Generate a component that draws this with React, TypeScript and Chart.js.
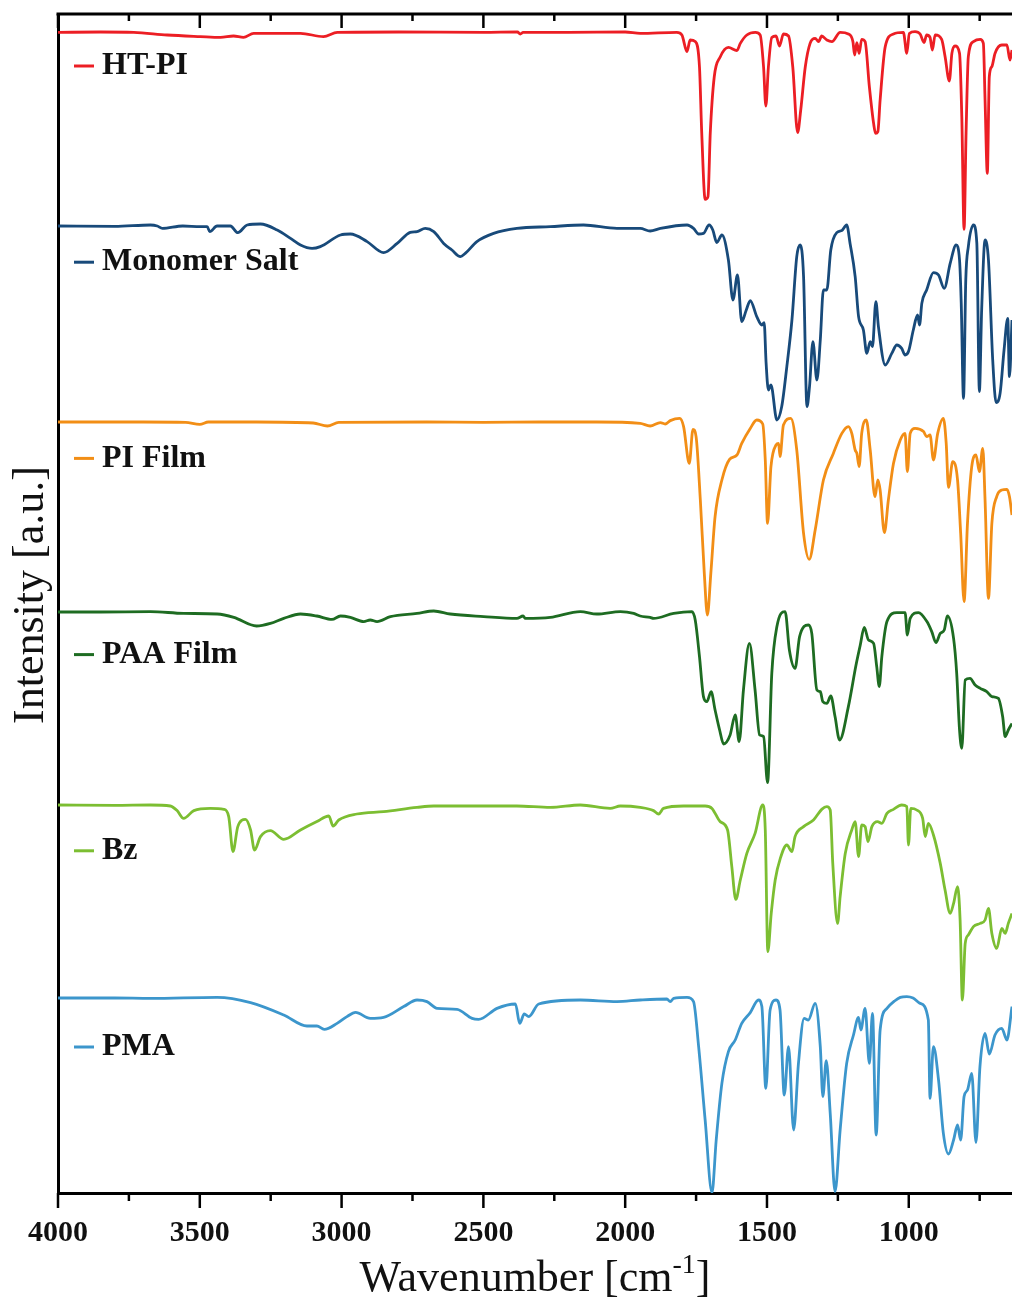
import React, { useEffect, useRef } from 'react';
import { Chart, registerables } from 'chart.js';

Chart.register(...registerables);

// ---------- data ----------
const seriesLabels = ['HT-PI', 'Monomer Salt', 'PI Film', 'PAA Film', 'Bz', 'PMA'];
const seriesColors = ['rgb(236,30,36)', 'rgb(24,74,122)', 'rgb(242,142,22)', 'rgb(30,108,34)', 'rgb(124,190,50)', 'rgb(60,150,204)'];
// vertical stacking offsets (a.u.)
const seriesOffsets = [485, 388, 291, 194, 97, 0];

const xTickValues = [4000, 3500, 3000, 2500, 2000, 1500, 1000];

// HT-PI
const htpiWn = [4000, 3850, 3733, 3615, 3498, 3427, 3381, 3346, 3310, 3145, 3064, 3015, 2800, 2500, 2380, 2370, 2360, 2200, 2000, 1947, 1818, 1800, 1782, 1771, 1753, 1738, 1730, 1718, 1708, 1700, 1686, 1665, 1636, 1606, 1594, 1571, 1541, 1524, 1512, 1504, 1495, 1483, 1468, 1456, 1442, 1424, 1409, 1392, 1381, 1365, 1348, 1330, 1318, 1307, 1289, 1271, 1242, 1213, 1197, 1191, 1183, 1175, 1166, 1154, 1139, 1124, 1117, 1109, 1101, 1083, 1054, 1019, 1007, 998, 978, 960, 946, 937, 925, 917, 907, 884, 872, 857, 848, 837, 821, 813, 805, 798, 790, 772, 748, 737, 731, 723, 716, 707, 696, 672, 654, 643, 636];
const htpiT = [95.3, 95.5, 95.3, 94, 93.2, 92.8, 93.5, 92.8, 94.8, 94.8, 93.2, 95.3, 95.5, 95.3, 95.5, 94.5, 95.3, 95.3, 95.5, 94.8, 95.3, 94, 85.7, 91.5, 90.7, 78, 44.8, 11.8, 13.2, 44.8, 73, 83, 87.8, 86.2, 89.8, 94, 95.3, 94, 78, 58.5, 78, 92.8, 93.5, 88.5, 94.5, 93.5, 78, 45.2, 56.5, 78, 89.8, 92.3, 90.7, 93.5, 91.5, 90.7, 95.3, 94.5, 90.7, 84, 90.2, 84.8, 91.8, 90.7, 68.2, 49.8, 44.8, 45.7, 61.5, 88.2, 94.5, 95.3, 84.8, 94.8, 95.7, 94.5, 90.2, 94, 92.8, 86.5, 94, 91.8, 83.2, 71, 84.8, 88.5, 84.8, 53.2, -3.2, 44.8, 83.2, 90.7, 91.8, 89.8, 61.5, 24.8, 73.2, 78.2, 84.8, 89, 89, 81.5, 86.5];

// Monomer Salt
const saltWn = [4000, 3800, 3674, 3650, 3632, 3560, 3498, 3474, 3465, 3439, 3392, 3366, 3333, 3286, 3227, 3180, 3145, 3104, 3075, 3004, 2969, 2910, 2852, 2804, 2758, 2734, 2705, 2675, 2640, 2611, 2581, 2564, 2523, 2464, 2382, 2264, 2147, 2029, 1970, 1947, 1912, 1876, 1782, 1759, 1741, 1724, 1704, 1691, 1677, 1659, 1636, 1620, 1604, 1589, 1573, 1559, 1536, 1518, 1510, 1503, 1495, 1486, 1465, 1448, 1430, 1412, 1395, 1383, 1371, 1359, 1350, 1338, 1324, 1312, 1301, 1289, 1275, 1254, 1236, 1219, 1207, 1189, 1177, 1160, 1148, 1136, 1128, 1116, 1107, 1083, 1060, 1042, 1025, 1013, 1001, 984, 969, 962, 954, 937, 913, 895, 875, 854, 833, 821, 815, 807, 799, 790, 772, 760, 751, 743, 731, 719, 704, 692, 678, 664, 651, 645, 636];
const saltT = [95.5, 95.3, 96, 95.5, 94.3, 95.5, 95.2, 95.2, 92.7, 95.5, 95.5, 92.2, 96, 96.5, 93.5, 89.3, 86, 84.3, 85.2, 91, 91.5, 87.7, 82.2, 86.8, 92.3, 92.7, 94.3, 92.7, 86.8, 83.5, 80.2, 81.8, 87.7, 91.8, 94.3, 95.2, 96, 94.3, 94.3, 94.3, 93, 94.3, 96, 94.3, 91.5, 91.8, 96, 93.5, 87.2, 91, 78.5, 58.5, 71, 47.7, 53.5, 58.2, 50.2, 46, 47.2, 26.8, 13.5, 16, -1.5, 5.2, 25.2, 48.5, 80.2, 86, 70.2, 5.2, 15.2, 37.7, 18.5, 38.5, 63.5, 63.5, 83.5, 92.2, 93.2, 96, 86.8, 70.2, 50.2, 43.5, 31.8, 37.7, 35.2, 57.7, 45.2, 26, 31.8, 36, 34.3, 31, 32.7, 43.5, 51, 46, 56.8, 63.5, 72.2, 71, 64.3, 76.8, 86, 78.5, 56.8, 9.3, 68.5, 85.2, 96, 86.8, 12.7, 53.5, 88.5, 78.5, 28.5, 7.2, 11.8, 33.5, 49.3, 20.2, 48.5];

// PI Film
const piWn = [4000, 3700, 3550, 3500, 3470, 3300, 3100, 3050, 3010, 2700, 2500, 2300, 2100, 1947, 1912, 1876, 1859, 1841, 1808, 1794, 1774, 1761, 1750, 1735, 1721, 1710, 1698, 1683, 1659, 1632, 1606, 1589, 1559, 1536, 1515, 1506, 1498, 1486, 1468, 1459, 1454, 1442, 1416, 1395, 1371, 1351, 1330, 1301, 1266, 1236, 1213, 1201, 1189, 1183, 1175, 1166, 1150, 1136, 1119, 1109, 1101, 1086, 1072, 1054, 1030, 1013, 1005, 995, 978, 948, 937, 925, 913, 898, 878, 868, 860, 845, 828, 817, 805, 793, 778, 763, 751, 739, 731, 719, 707, 690, 672, 654, 645, 636];
const piT = [94.5, 94.5, 94.3, 93.3, 94.5, 94.5, 94, 92.5, 94.3, 94.5, 94.3, 94.5, 94.5, 93.8, 92.5, 94.2, 93.5, 95.2, 96.3, 92.2, 73.8, 90.8, 87.2, 55.5, 18.8, -2, 18.8, 47.2, 65.5, 75.8, 78, 83.8, 91.3, 95.5, 93.5, 75.5, 43.8, 72.2, 83, 83.8, 77.2, 93, 96.3, 80.5, 38.8, 25.8, 40.5, 65.5, 78.8, 88.8, 92.2, 88.8, 80.5, 78.8, 72.2, 88.8, 95.5, 80.5, 57.2, 65.5, 60.5, 39.2, 55.5, 73.8, 85.5, 88.8, 69.7, 88.8, 91.3, 89.7, 87.2, 88, 75.5, 88.8, 96.3, 83.8, 61.8, 74.7, 65.5, 38.8, 4.7, 43.8, 72.2, 78, 69.7, 81.3, 55.5, 6.3, 43.8, 57.2, 60.5, 60.8, 57.2, 48];

// PAA Film
const paaWn = [4000, 3850, 3674, 3557, 3439, 3380, 3300, 3251, 3204, 3145, 3087, 3034, 3004, 2969, 2922, 2899, 2875, 2828, 2734, 2675, 2617, 2499, 2382, 2360, 2352, 2264, 2158, 2100, 2017, 1970, 1947, 1912, 1900, 1829, 1765, 1753, 1738, 1724, 1712, 1697, 1683, 1667, 1653, 1630, 1612, 1598, 1583, 1562, 1542, 1526, 1512, 1498, 1483, 1465, 1436, 1421, 1401, 1385, 1354, 1342, 1324, 1312, 1303, 1289, 1275, 1260, 1244, 1213, 1186, 1171, 1157, 1142, 1124, 1113, 1104, 1095, 1077, 1042, 1013, 1005, 995, 966, 936, 919, 904, 889, 875, 864, 842, 831, 821, 813, 801, 784, 766, 748, 725, 707, 684, 669, 660, 649, 636];
const paaT = [96.5, 96.5, 96.7, 95.8, 95.5, 93.8, 89.5, 90.8, 93.3, 95.5, 94.5, 92.8, 94.5, 93.8, 91.7, 92.5, 91.7, 94.2, 95.8, 97, 95.5, 94.2, 93.3, 94.5, 93.3, 93.8, 96.7, 95.5, 96.7, 95.8, 94.5, 93.8, 93.3, 95.8, 96.7, 92.5, 74.2, 54.2, 51.7, 56.7, 47.5, 37.5, 30.5, 35, 45, 31.7, 57.5, 80.8, 57.5, 35, 34.2, 11.2, 65.8, 89.2, 96.7, 77.5, 68.3, 84.2, 90, 85.8, 57.5, 56.7, 51.7, 50.8, 54.5, 44.2, 32.5, 49.2, 70, 80, 88.8, 82.5, 80.8, 69.2, 59.2, 74.2, 91.7, 96.2, 96.2, 85, 93.3, 96.2, 91.7, 86.7, 81.2, 85.8, 87.5, 94.5, 83.3, 65.8, 37.5, 28.3, 62.5, 63.3, 60, 58.3, 56.7, 54.2, 53.3, 44.2, 34.2, 37.5, 40.8];

// Bz
const bzWn = [4000, 3800, 3674, 3604, 3580, 3557, 3521, 3463, 3415, 3398, 3383, 3366, 3339, 3321, 3307, 3286, 3251, 3204, 3145, 3087, 3045, 3030, 3010, 2946, 2852, 2734, 2675, 2499, 2382, 2264, 2158, 2053, 2017, 1947, 1900, 1882, 1865, 1794, 1718, 1694, 1665, 1639, 1624, 1610, 1594, 1571, 1542, 1515, 1506, 1497, 1485, 1471, 1453, 1430, 1412, 1401, 1371, 1336, 1307, 1289, 1277, 1268, 1251, 1242, 1224, 1201, 1189, 1177, 1166, 1154, 1144, 1130, 1110, 1095, 1077, 1054, 1025, 1007, 1001, 993, 972, 951, 942, 931, 913, 889, 872, 854, 842, 828, 819, 811, 801, 790, 772, 748, 731, 719, 707, 690, 672, 660, 649, 636];
const bzT = [97, 96.8, 97, 96.5, 94.2, 90.3, 94.2, 95.3, 94.8, 91.2, 73.7, 86.2, 89.8, 84.5, 74.5, 81.2, 84.2, 79.8, 84.5, 88.7, 91.5, 86.5, 89.5, 92.5, 93.7, 95.8, 96.5, 96.5, 96.5, 95.8, 97, 95.3, 96.5, 95.8, 94.2, 92.5, 95.3, 96.5, 96.5, 95.3, 88.7, 84.5, 66.2, 49.8, 59.5, 72.8, 82.8, 97, 84.5, 23.7, 42.8, 59.5, 70.3, 77, 73.7, 81.2, 86.2, 89.5, 94.8, 96.2, 94.5, 67.8, 37.8, 51.2, 72.8, 84.5, 88.7, 71.2, 87, 86.2, 78.7, 86.2, 88.7, 87.8, 92.8, 94.8, 97, 96.2, 77, 95.3, 94.5, 90.3, 81.2, 87.8, 82, 67.8, 54.5, 42.8, 47.8, 56.2, 39.5, -0.5, 27.8, 32, 36.2, 37.8, 39.5, 45.3, 32.8, 25.3, 35.3, 32.8, 37.8, 42.8];

// PMA
const pmaWn = [4000, 3800, 3674, 3439, 3321, 3204, 3122, 3087, 3061, 3016, 2981, 2951, 2899, 2852, 2781, 2734, 2699, 2663, 2593, 2540, 2517, 2452, 2387, 2372, 2356, 2340, 2305, 2158, 2029, 1947, 1853, 1841, 1829, 1782, 1759, 1741, 1718, 1694, 1679, 1659, 1636, 1612, 1589, 1559, 1530, 1518, 1504, 1489, 1468, 1454, 1439, 1424, 1406, 1389, 1369, 1354, 1330, 1312, 1303, 1291, 1277, 1260, 1242, 1219, 1195, 1177, 1169, 1154, 1139, 1128, 1115, 1101, 1077, 1050, 1030, 1007, 985, 960, 931, 925, 913, 895, 878, 860, 842, 828, 817, 805, 793, 778, 763, 749, 731, 716, 696, 672, 654, 636];
const pmaT = [97.5, 97.5, 97.3, 97.8, 95.2, 89, 83.5, 83.5, 81.8, 84.8, 88.2, 90.3, 87.3, 87.8, 93.2, 96.5, 95.7, 92.3, 91.8, 87.3, 86.8, 92.3, 94.5, 84.8, 89.5, 88.2, 94.5, 96.5, 95.7, 96.5, 97, 95.7, 97.3, 97.8, 95.7, 73.2, 36.5, 0.2, 26.5, 54.8, 70.7, 76.5, 84.8, 90.2, 96.5, 93.2, 52.3, 91.5, 96.5, 91.5, 49, 73.2, 31.5, 64.8, 87.3, 86.5, 94.8, 73.2, 48.2, 66.2, 39.8, 0.7, 31.5, 64.8, 79, 87.8, 81.5, 92.3, 64.8, 89.8, 29, 81.5, 92.3, 96, 97.8, 98.2, 97.5, 94.8, 86.5, 47.3, 73.2, 56.5, 29.8, 19.5, 26.5, 34, 26.5, 48.2, 51.5, 59.8, 25.2, 63.2, 79.8, 69.5, 79, 82.3, 76.5, 93.2];

const seriesWn = [htpiWn, saltWn, piWn, paaWn, bzWn, pmaWn];
const seriesT = [htpiT, saltT, piT, paaT, bzT, pmaT];

const SERIF = "'Liberation Serif', 'DejaVu Serif', serif";

const decorPlugin = {
  id: 'decor',
  afterDraw(chart: any) {
    const { ctx, chartArea } = chart;
    const { left, right, top, bottom } = chartArea;
    const x = chart.scales.x;
    ctx.save();
    ctx.strokeStyle = '#000';
    ctx.lineWidth = 3;
    ctx.beginPath();
    ctx.moveTo(left - 1.5, top);
    ctx.lineTo(right + 2, top);
    ctx.stroke();
    ctx.lineWidth = 2.5;
    for (const t of x.ticks) {
      const v = t.value;
      if (v % 250 !== 0) continue;
      const px = x.getPixelForValue(v);
      const major = v % 500 === 0;
      ctx.beginPath();
      ctx.moveTo(px, top);
      ctx.lineTo(px, top + (major ? 14 : 7));
      ctx.stroke();
      ctx.beginPath();
      ctx.moveTo(px, bottom);
      ctx.lineTo(px, bottom + (major ? 15 : 8));
      ctx.stroke();
    }
    // legend labels beside each trace
    seriesLabels.forEach((label, i) => {
      const y = 66 + i * 196.2;
      ctx.strokeStyle = seriesColors[i];
      ctx.lineWidth = 3;
      ctx.beginPath();
      ctx.moveTo(74, y);
      ctx.lineTo(94, y);
      ctx.stroke();
      ctx.fillStyle = '#111';
      ctx.font = `bold 32px ${SERIF}`;
      ctx.textAlign = 'left';
      ctx.textBaseline = 'middle';
      ctx.fillText(label, 102, y);
    });
    // x title with superscript
    ctx.fillStyle = '#111';
    ctx.textBaseline = 'alphabetic';
    ctx.textAlign = 'left';
    const big = `44px ${SERIF}`;
    const small = `28px ${SERIF}`;
    const p1 = 'Wavenumber [cm';
    const p2 = '-1';
    const p3 = ']';
    ctx.font = big;
    const w1 = ctx.measureText(p1).width;
    const w3 = ctx.measureText(p3).width;
    ctx.font = small;
    const w2 = ctx.measureText(p2).width;
    const total = w1 + w2 + w3;
    let sx = (left + right) / 2 - total / 2;
    const base = 1291;
    ctx.font = big;
    ctx.fillText(p1, sx, base);
    sx += w1;
    ctx.font = small;
    ctx.fillText(p2, sx, base - 18);
    sx += w2;
    ctx.font = big;
    ctx.fillText(p3, sx, base);
    // y title
    ctx.save();
    ctx.translate(31, 595);
    ctx.rotate(-Math.PI / 2);
    ctx.font = `44px ${SERIF}`;
    ctx.textAlign = 'center';
    ctx.textBaseline = 'middle';
    ctx.fillText('Intensity [a.u.]', 0, 0);
    ctx.restore();
    ctx.restore();
  },
};

export default function App() {
  const ref = useRef<HTMLCanvasElement | null>(null);
  useEffect(() => {
    if (!ref.current) return;
    const datasets = seriesLabels.map((label, i) => ({
      label,
      data: seriesWn[i].map((w, j) => ({ x: w, y: seriesT[i][j] + seriesOffsets[i] })),
      borderColor: seriesColors[i],
      backgroundColor: seriesColors[i],
      borderWidth: 2.8,
      pointRadius: 0,
      cubicInterpolationMode: 'monotone' as const,
      fill: false,
    }));
    const chart = new Chart(ref.current, {
      type: 'line',
      data: { datasets },
      plugins: [decorPlugin],
      options: {
        animation: false,
        responsive: false,
        devicePixelRatio: 1,
        layout: { padding: { top: 14, right: 0, left: 0, bottom: 0 } },
        plugins: { legend: { display: false }, tooltip: { enabled: false } },
        scales: {
          x: {
            type: 'linear',
            reverse: true,
            min: 636,
            max: 4000,
            afterFit: (s: any) => { s.height = 104; },
            ticks: {
              stepSize: 250,
              includeBounds: false,
              autoSkip: false,
              maxRotation: 0,
              padding: 10,
              color: '#111',
              font: { family: SERIF, size: 30, weight: 'bold', lineHeight: 1 },
              callback: (v: any) => (xTickValues.includes(Number(v)) ? String(v) : ''),
            },
            grid: { display: true, drawOnChartArea: false, drawTicks: true, tickLength: 15, tickColor: 'rgba(0,0,0,0)' },
            border: { display: true, width: 3, color: '#000' },
          },
          y: {
            min: 0,
            max: 589.5,
            afterFit: (s: any) => { s.width = 58; },
            ticks: { display: false },
            grid: { display: false },
            border: { display: true, width: 3, color: '#000' },
          },
        },
      },
    });
    return () => chart.destroy();
  }, []);
  return (
    <div style={{ position: 'absolute', left: 0, top: 0, width: 1012, height: 1297, background: '#fff' }}>
      <canvas ref={ref} width={1012} height={1297} />
    </div>
  );
}
